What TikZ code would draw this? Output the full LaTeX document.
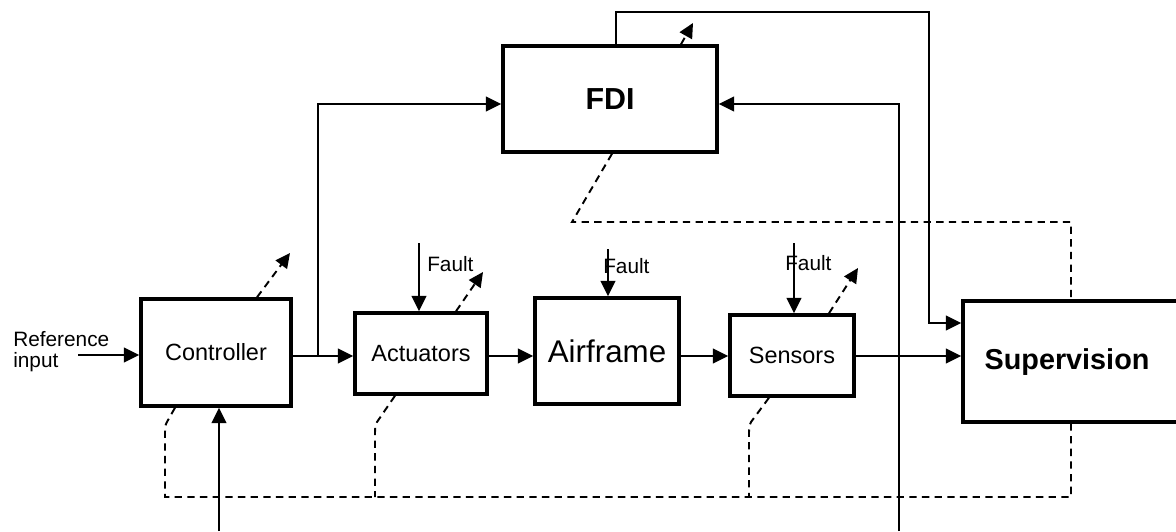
\documentclass[tikz,border=0pt]{standalone}
\usepackage{fontspec}
\setmainfont{Liberation Sans}
\usetikzlibrary{arrows.meta,calc}
\newcommand\fsmall{\fontsize{15.6}{15.8}\selectfont}
\newcommand\fmid{\fontsize{17.6}{20}\selectfont}
\newcommand\fbig{\fontsize{23.5}{26}\selectfont}
\newcommand\fboldbig{\fontsize{22.8}{26}\selectfont\bfseries}
\newcommand\fboldsup{\fontsize{21.6}{26}\selectfont\bfseries}
\begin{document}
\begin{tikzpicture}[x=0.75pt,y=-0.75pt,
  box/.style={draw, line width=2.6pt, inner sep=0pt},
  arr/.style={line width=1.25pt, -{Triangle[length=11.5pt,width=11pt]}},
  dsh/.style={line width=1.45pt, dash pattern=on 5.5pt off 4pt},
  darr/.style={dsh, -{Triangle[length=11pt,width=10.5pt]}},
  lbl/.style={inner sep=0pt}
]
\useasboundingbox (0,0) rectangle (1176,531);
\clip (0,0) rectangle (1176,531);

% boxes
\node[box, minimum width=112.5pt, minimum height=80.25pt, font=\fmid] (ctrl) at (216,352.5) {Controller};
\node[box, minimum width=99pt, minimum height=60.75pt, font=\fmid] (act) at (421,353.5) {Actuators};
\node[box, minimum width=108pt, minimum height=79.5pt, font=\fbig] (air) at (607,351) {Airframe};
\node[box, minimum width=93pt, minimum height=60.75pt, font=\fmid] (sen) at (792,355.5) {Sensors};
\node[box, minimum width=160.5pt, minimum height=79.5pt, font=\fboldbig] (fdi) at (610,99) {FDI};
\node[box, minimum width=177.75pt, minimum height=90.75pt] (sup) at (1081.5,361.5) {};
\node[lbl, font=\fboldsup] (suptxt) at (1067,362) {Supervision};

% labels
\node[lbl, anchor=west, align=left, font=\fsmall] (ref) at (13,352) {Reference\\input};
\node[lbl, anchor=west, font=\fsmall] (fl1) at (427,264) {Fault};
\node[lbl, anchor=west, font=\fsmall] (fl2) at (603,266) {Fault};
\node[lbl, anchor=west, font=\fsmall] (fl3) at (785,263) {Fault};

% coordinates
\coordinate (row) at (0,356);
\coordinate (refstart) at (78,355);
\coordinate (split) at (318,356);
\coordinate (fdiin) at (0,104);
\coordinate (fdiout) at (616,0);
\coordinate (fdiloop) at (929,12);
\coordinate (supin1) at (0,323);
\coordinate (fbbot) at (899,531);
\coordinate (cbot) at (219,531);
\coordinate (f1) at (419,243);
\coordinate (f2) at (608,249);
\coordinate (f3) at (794,243);

% solid connectors
\draw[arr] (refstart) -- (ctrl.west |- refstart);
\draw[arr] (ctrl.east |- row) -- (act.west |- row);
\draw[arr] (split) |- (fdi.west |- fdiin);
\draw[arr] (act.east |- row) -- (air.west |- row);
\draw[arr] (air.east |- row) -- (sen.west |- row);
\draw[arr] (sen.east |- row) -- (sup.west |- row);
\draw[arr] (fdi.north -| fdiout) |- (fdiloop) |- (sup.west |- supin1);
\draw[arr] (fbbot) |- (fdi.east |- fdiin);
\draw[arr] (cbot) -- (ctrl.south -| cbot);
\draw[arr] (f1) -- (act.north -| f1);
\draw[arr] (f2) -- (air.north -| f2);
\draw[arr] (f3) -- (sen.north -| f3);

% dashed bus
\coordinate (busCL) at (165,497);
\coordinate (busA) at (375,497);
\coordinate (busS) at (749,497);
\coordinate (busR) at (1071,497);
\coordinate (cdx) at (175,0);
\coordinate (adx) at (395,0);
\coordinate (sdx) at (769,0);
\coordinate (fdx) at (612,0);
\draw[dsh] (ctrl.south -| cdx) -- (167.5,421) .. controls (165.3,425) .. (165,432) -- (busCL) -- (busR) -- (sup.south -| busR);
\draw[dsh] (act.south -| adx) -- (377,422) .. controls (375.3,426) .. (375,432) -- (busA);
\draw[dsh] (sen.south -| sdx) -- (751,422) .. controls (749.3,426) .. (749,432) -- (busS);
\draw[dsh] (fdi.south -| fdx) -- (572,222) -- (1071,222) -- (sup.north -| busR);

% dashed arrows
\coordinate (c1x) at (257,0);  \coordinate (cd1) at (290,253);
\coordinate (a1x) at (456,0);  \coordinate (ad1) at (483,272);
\coordinate (s1x) at (829,0);  \coordinate (sd1) at (858,268);
\coordinate (f1x) at (681,0);  \coordinate (fd1) at (693,23);
\draw[darr] (ctrl.north -| c1x) -- (cd1);
\draw[darr] (act.north -| a1x) -- (ad1);
\draw[darr] (sen.north -| s1x) -- (sd1);
\draw[darr] (fdi.north -| f1x) -- (fd1);
\end{tikzpicture}
\end{document}
